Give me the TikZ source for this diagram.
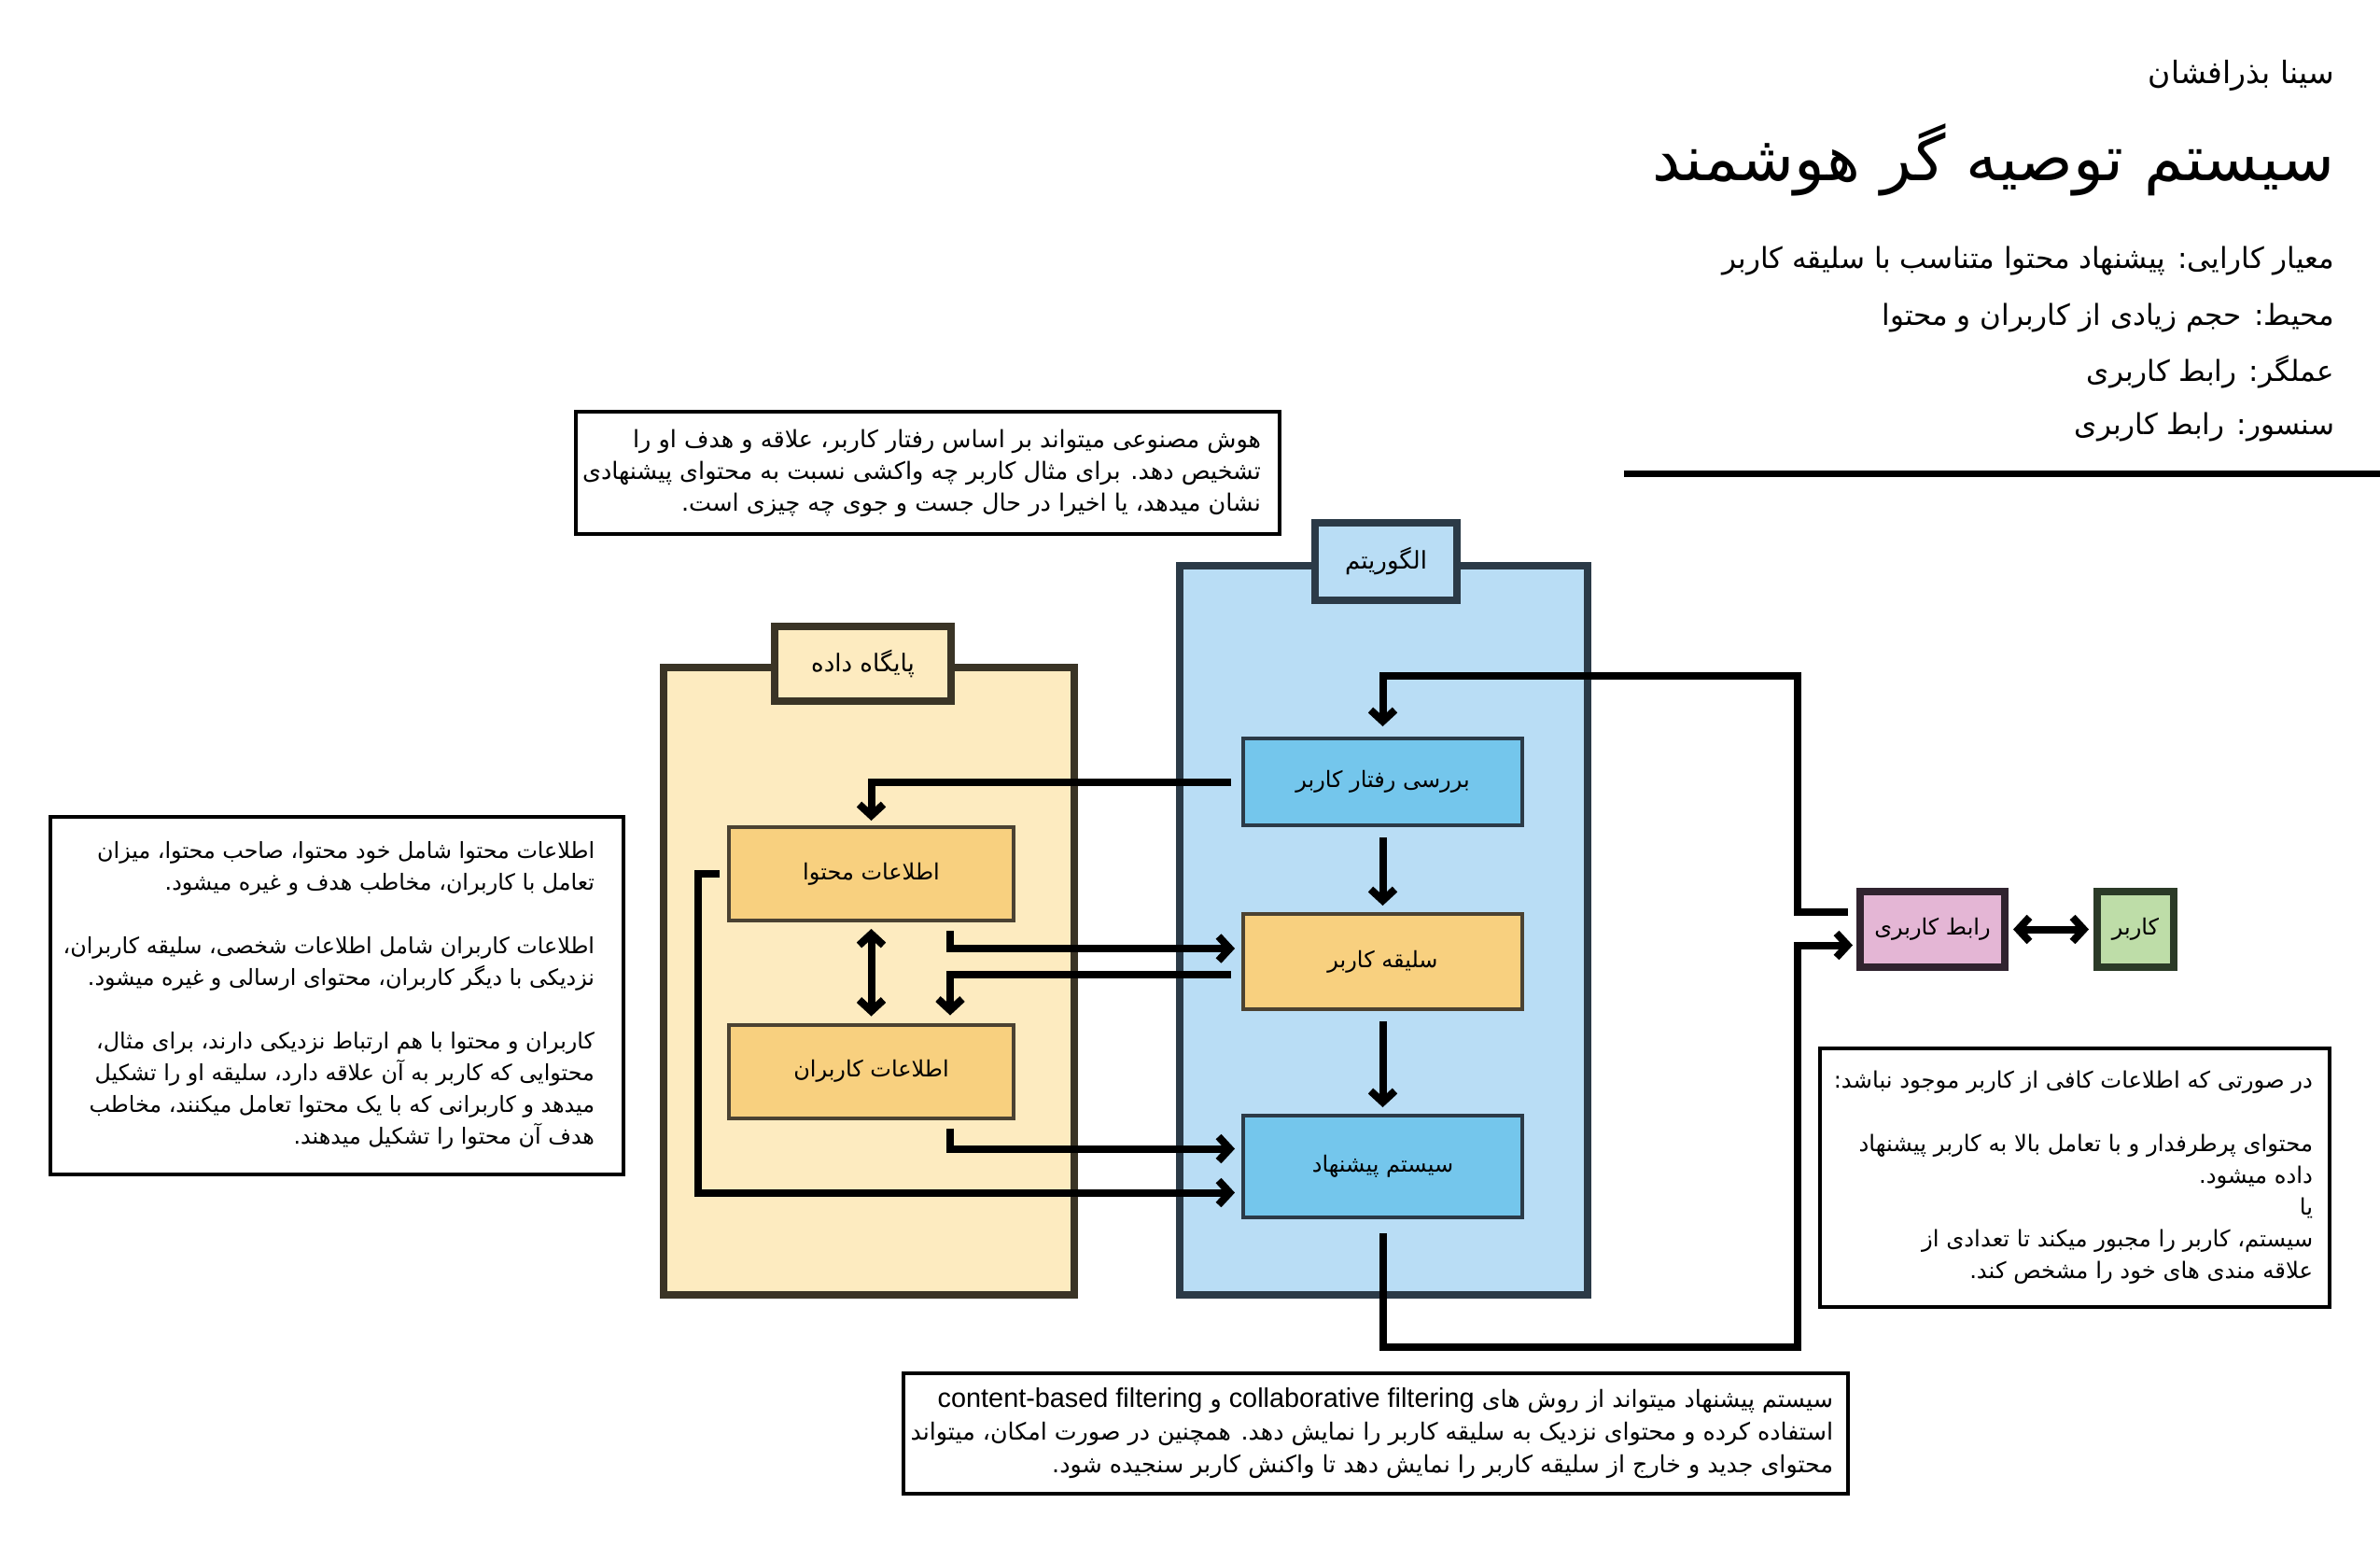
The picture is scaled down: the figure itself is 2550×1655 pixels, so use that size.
\documentclass[tikz,border=0pt]{standalone}
\usepackage{fontspec}
\setmainfont{DejaVu Sans}
\newfontfamily\arabicfont[Script=Arabic]{DejaVu Sans}
\newfontfamily\latinfont[Scale=1.14]{Liberation Sans}
\TeXXeTstate=1
\usetikzlibrary{arrows.meta,calc}
\newcommand{\pers}[1]{{\arabicfont\beginR #1\endR}}
\newcommand{\lat}[1]{\beginL{\latinfont #1}\endL{}}
\definecolor{algofill}{HTML}{B9DDF5}
\definecolor{algoedge}{HTML}{2B3A47}
\definecolor{dbfill}{HTML}{FDEBC0}
\definecolor{dbedge}{HTML}{3A3426}
\definecolor{bluebox}{HTML}{74C6EC}
\definecolor{orangebox}{HTML}{F8D07F}
\definecolor{orangeedge}{HTML}{4B4232}
\definecolor{pinkbox}{HTML}{E4B6D5}
\definecolor{pinkedge}{HTML}{30232F}
\definecolor{greenbox}{HTML}{BEDDA8}
\definecolor{greenedge}{HTML}{2B3A27}
\begin{document}
\begin{tikzpicture}[x=1pt,y=-1pt,line join=miter,
  every node/.style={inner sep=0pt,outer sep=0pt},
  container/.style={draw,line width=8pt,rectangle},
  algocont/.style={container,draw=algoedge,fill=algofill},
  dbcont/.style={container,draw=dbedge,fill=dbfill},
  labelfont/.style={font=\fontsize{24}{28}\selectfont},
  contlabelfont/.style={font=\fontsize{26}{30}\selectfont},
  bluestep/.style={draw=algoedge,line width=4pt,fill=bluebox,labelfont},
  orangestep/.style={draw=orangeedge,line width=4pt,fill=orangebox,labelfont},
  tbox/.style={draw=black,line width=4pt,fill=white},
  txt/.style={align=right},
  hdr/.style={anchor=east,font=\fontsize{31}{36}\selectfont},
  conn/.style={line width=8pt,-{Straight Barb[length=12pt,width=26pt]}},
  conn2/.style={line width=8pt,{Straight Barb[length=12pt,width=26pt]}-{Straight Barb[length=12pt,width=26pt]}}]
\useasboundingbox (0,0) rectangle (2550,1655);
% header
\node[anchor=east,font=\fontsize{33}{36}\selectfont] (author) at (2501,81) {\pers{سینا بذرافشان}};
\node[anchor=east,font=\fontsize{68}{76}\selectfont] (title) at (2501,171) {\pers{سیستم توصیه گر هوشمند}};
\node[hdr] (crit) at (2501,280) {\pers{معیار کارایی: پیشنهاد محتوا متناسب با سلیقه کاربر}};
\node[hdr] (env) at (2501,340) {\pers{محیط: حجم زیادی از کاربران و محتوا}};
\node[hdr] (act) at (2501,398) {\pers{عملگر: رابط کاربری}};
\node[hdr] (sens) at (2501,457) {\pers{سنسور: رابط کاربری}};
\draw[line width=7pt] (1740,507) -- (2550,507);
% containers
\node[algocont,minimum width=437,minimum height=781] (algo) at (1482,996.5) {};
\node[algocont,minimum width=152,minimum height=83,contlabelfont] (algolabel) at (1485,601.5) {\pers{الگوریتم}};
\node[dbcont,minimum width=440,minimum height=672] (db) at (931,1051) {};
\node[dbcont,minimum width=189,minimum height=80,contlabelfont] (dblabel) at (924.5,711) {\pers{پایگاه داده}};
% steps
\node[bluestep,minimum width=299,minimum height=93] (barresi) at (1481.5,837.5) {\pers{بررسی رفتار کاربر}};
\node[orangestep,minimum width=299,minimum height=102] (saliqe) at (1481.5,1030) {\pers{سلیقه کاربر}};
\node[bluestep,minimum width=299,minimum height=109] (pishnahad) at (1481.5,1249.5) {\pers{سیستم پیشنهاد}};
\node[orangestep,minimum width=305,minimum height=100] (mohtava) at (933.5,936) {\pers{اطلاعات محتوا}};
\node[orangestep,minimum width=305,minimum height=100] (karbaran) at (933.5,1147.5) {\pers{اطلاعات کاربران}};
\node[draw=pinkedge,fill=pinkbox,line width=8pt,minimum width=155,minimum height=81,labelfont] (rabet) at (2070.5,995.5) {\pers{رابط کاربری}};
\node[draw=greenedge,fill=greenbox,line width=8pt,minimum width=82,minimum height=81,labelfont] (karbar) at (2288,995.5) {\pers{کاربر}};
% text boxes
\node[tbox,minimum width=754,minimum height=131] (aibox) at (994,506.5) {};
\node[txt,anchor=east,font=\fontsize{25.5}{34}\selectfont] (aitext) at ($(aibox.east)+(-20,0)$) {\pers{هوش مصنوعی میتواند بر اساس رفتار کاربر، علاقه و هدف او را}\\
\pers{تشخیص دهد. برای مثال کاربر چه واکشی نسبت به محتوای پیشنهادی}\\
\pers{نشان میدهد، یا اخیرا در حال جست و جوی چه چیزی است.}};
\node[tbox,minimum width=614,minimum height=383] (infobox) at (361,1066.5) {};
\node[txt,anchor=east,font=\fontsize{23.8}{34}\selectfont] (infotext) at ($(infobox.east)+(-31,0)$) {\pers{اطلاعات محتوا شامل خود محتوا، صاحب محتوا، میزان}\\
\pers{تعامل با کاربران، مخاطب هدف و غیره میشود.}\\[34pt]
\pers{اطلاعات کاربران شامل اطلاعات شخصی، سلیقه کاربران،}\\
\pers{نزدیکی با دیگر کاربران، محتوای ارسالی و غیره میشود.}\\[34pt]
\pers{کاربران و محتوا با هم ارتباط نزدیکی دارند، برای مثال،}\\
\pers{محتوایی که کاربر به آن علاقه دارد، سلیقه او را تشکیل}\\
\pers{میدهد و کاربرانی که با یک محتوا تعامل میکنند، مخاطب}\\
\pers{هدف آن محتوا را تشکیل میدهند.}};
\node[tbox,minimum width=546,minimum height=277] (nodatabox) at (2223,1261.5) {};
\node[txt,anchor=east,font=\fontsize{24.3}{34}\selectfont] (nodatatext) at ($(nodatabox.east)+(-18,0)$) {\pers{در صورتی که اطلاعات کافی از کاربر موجود نباشد:}\\[34pt]
\pers{محتوای پرطرفدار و با تعامل بالا به کاربر پیشنهاد}\\
\pers{داده میشود.}\\
\pers{یا}\\
\pers{سیستم، کاربر را مجبور میکند تا تعدادی از}\\
\pers{علاقه مندی های خود را مشخص کند.}};
\node[tbox,minimum width=1012,minimum height=129] (cfbox) at (1474,1535.5) {};
\node[txt,anchor=east,font=\fontsize{25.3}{35}\selectfont] (cftext) at ($(cfbox.east)+(-16,0)$) {\pers{سیستم پیشنهاد میتواند از روش های \lat{collaborative filtering} و \lat{content-based filtering}}\\
\pers{استفاده کرده و محتوای نزدیک به سلیقه کاربر را نمایش دهد. همچنین در صورت امکان، میتواند}\\
\pers{محتوای جدید و خارج از سلیقه کاربر را نمایش دهد تا واکنش کاربر سنجیده شود.}};
% connectors
\draw[conn] ($(rabet.west)+(-13,-19)$) -| (1926,724) -| ($(barresi.north)+(0,-13)$);
\draw[conn] ($(pishnahad.south)+(0,17)$) |- (1926,1443) |- ($(rabet.west)+(-8,17)$);
\draw[conn] ($(barresi.west)+(-13,0)$) -| ($(mohtava.north)+(0,-7)$);
\draw[conn] ($(barresi.south)+(0,13)$) -- ($(saliqe.north)+(0,-9)$);
\draw[conn] ($(saliqe.south)+(0,13)$) -- ($(pishnahad.north)+(0,-9)$);
\draw[conn] ($(mohtava.south east)+(-68,11)$) |- ($(saliqe.west)+(-9,-14)$);
\draw[conn] ($(saliqe.west)+(-13,14)$) -| ($(karbaran.north east)+(-68,-10)$);
\draw[conn2] ($(mohtava.south)+(0,9)$) -- ($(karbaran.north)+(0,-9)$);
\draw[conn] ($(karbaran.south east)+(-68,11)$) |- ($(pishnahad.west)+(-9,-19)$);
\draw[conn] ($(mohtava.west)+(-10,0)$) -- ++(-23,0) |- ($(pishnahad.west)+(-9,28)$);
\draw[conn2] ($(rabet.east)+(9,0)$) -- ($(karbar.west)+(-9,0)$);
\end{tikzpicture}
\end{document}
